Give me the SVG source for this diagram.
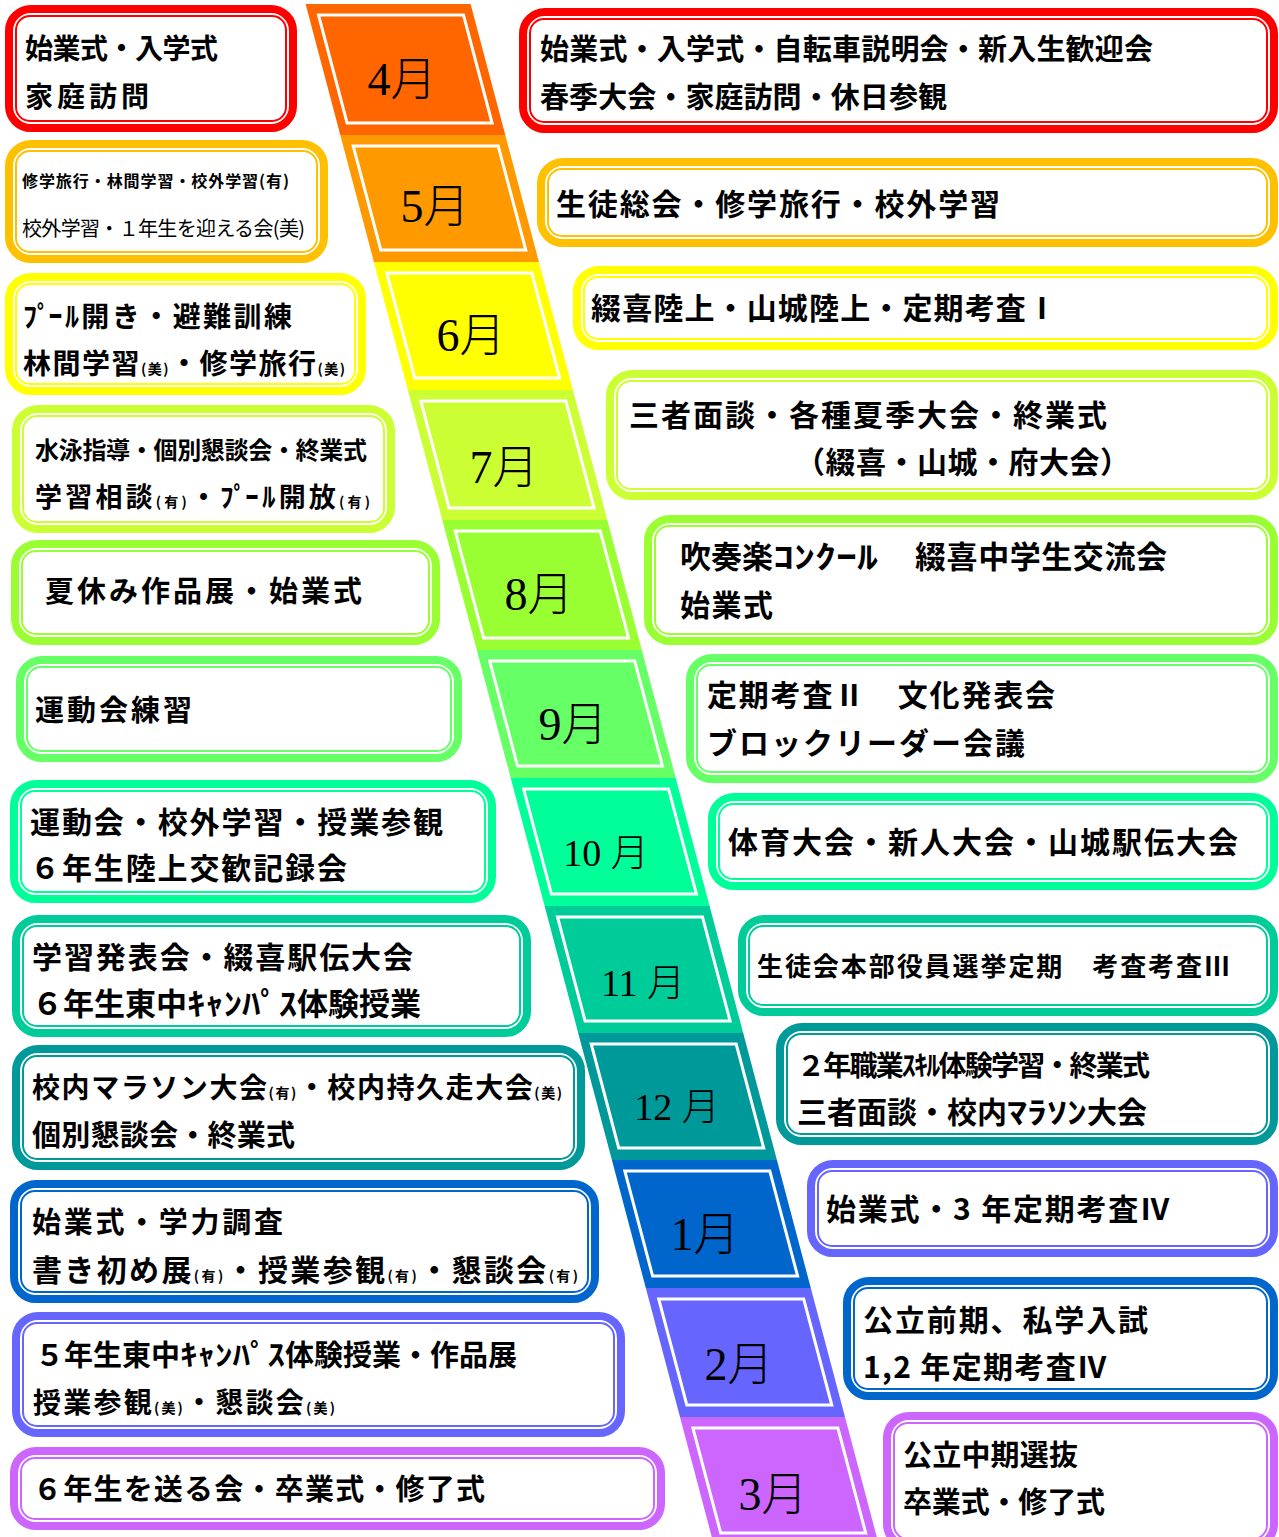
<svg xmlns="http://www.w3.org/2000/svg" width="1279" height="1537" viewBox="0 0 1279 1537">
<style>
.o{fill:#fff;stroke-width:8}
.i{fill:none;stroke-width:2}
.t{font-family:"Noto Sans CJK JP","Noto Sans CJK SC",sans-serif;font-weight:700;fill:#000;stroke:none}
.n{font-weight:400}
.s{font-size:14px}
.m{font-family:"Liberation Serif","Noto Sans CJK JP",serif;font-size:46px;font-weight:300;text-anchor:middle;fill:#000;stroke:none}
.ms{font-size:38px}
.pw{fill:none;stroke:#fff;stroke-width:3}
</style>
<rect width="1279" height="1537" fill="#fff"/>
<g id="months">
<g id="m4" fill="#FF6600"><polygon points="305.6,4 470.6,4 505.3,135 340.3,135"/><polygon class="pw" points="318.5,15 463.5,15 492.1,123 347.1,123"/><text class="m" x="402" y="95">4月</text></g>
<g id="m5" fill="#FF9900"><polygon points="340.3,135 505.3,135 538.9,262 373.9,262"/><polygon class="pw" points="353.2,146 498.2,146 525.8,250 380.8,250"/><text class="m" x="435" y="222">5月</text></g>
<g id="m6" fill="#FFFF00"><polygon points="373.9,262 538.9,262 572.9,390 407.9,390"/><polygon class="pw" points="386.8,273 531.8,273 559.7,378 414.7,378"/><text class="m" x="471" y="351">6月</text></g>
<g id="m7" fill="#CCFF33"><polygon points="407.9,390 572.9,390 607.3,520 442.3,520"/><polygon class="pw" points="420.8,401 565.8,401 594.1,508 449.1,508"/><text class="m" x="504" y="483">7月</text></g>
<g id="m8" fill="#99FF33"><polygon points="442.3,520 607.3,520 641.8,650 476.8,650"/><polygon class="pw" points="455.2,531 600.2,531 628.6,638 483.6,638"/><text class="m" x="539" y="610">8月</text></g>
<g id="m9" fill="#66FF66"><polygon points="476.8,650 641.8,650 675.7,778 510.7,778"/><polygon class="pw" points="489.7,661 634.7,661 662.5,766 517.5,766"/><text class="m" x="573" y="740">9月</text></g>
<g id="m10" fill="#00FF99"><polygon points="510.7,778 675.7,778 709.6,906 544.6,906"/><polygon class="pw" points="523.6,789 668.6,789 696.4,894 551.4,894"/><text class="m ms" x="606" y="866">10 月</text></g>
<g id="m11" fill="#00CC99"><polygon points="544.6,906 709.6,906 743.2,1033 578.2,1033"/><polygon class="pw" points="557.5,917 702.5,917 730.1,1021 585.1,1021"/><text class="m ms" x="643" y="996">11 月</text></g>
<g id="m12" fill="#009999"><polygon points="578.2,1033 743.2,1033 776.9,1160 611.9,1160"/><polygon class="pw" points="591.2,1044 736.2,1044 763.7,1148 618.7,1148"/><text class="m ms" x="677" y="1120">12 月</text></g>
<g id="m1" fill="#0066CC"><polygon points="611.9,1160 776.9,1160 810.8,1288 645.8,1288"/><polygon class="pw" points="624.8,1171 769.8,1171 797.6,1276 652.6,1276"/><text class="m" x="705" y="1250">1月</text></g>
<g id="m2" fill="#6666FF"><polygon points="645.8,1288 810.8,1288 845,1417 680,1417"/><polygon class="pw" points="658.7,1299 803.7,1299 831.8,1405 686.8,1405"/><text class="m" x="739" y="1380">2月</text></g>
<g id="m3" fill="#CC66FF"><polygon points="680,1417 845,1417 878.9,1545 713.9,1545"/><polygon class="pw" points="692.9,1428 837.9,1428 865.7,1533 720.7,1533"/><text class="m" x="773" y="1510">3月</text></g>
</g>
<g id="left">
<g id="L4" stroke="#FF0000"><rect class="o" x="9" y="9" width="284" height="119" rx="22"/><rect class="i" x="16" y="16" width="270" height="105" rx="14"/>
<text class="t" x="25" y="59" font-size="28" textLength="193">始業式・入学式</text>
<text class="t" x="25" y="107" font-size="28" textLength="124">家庭訪問</text></g>
<g id="L5" stroke="#FFC000"><rect class="o" x="9" y="144" width="315" height="115" rx="22"/><rect class="i" x="16" y="151" width="301" height="101" rx="14"/>
<text class="t" x="22" y="187" font-size="16" textLength="267">修学旅行・林間学習・校外学習(有)</text>
<text class="t n" x="22" y="236" font-size="20" textLength="283">校外学習・１年生を迎える会(美)</text></g>
<g id="L6" stroke="#FFFF00"><rect class="o" x="9" y="277" width="353" height="114" rx="22"/><rect class="i" x="16" y="284" width="339" height="100" rx="14"/>
<text class="t" x="23" y="327" font-size="28" textLength="269">ﾌﾟ<tspan dx="-5">ｰﾙ</tspan>開き・避難訓練</text>
<text class="t" x="23" y="374" font-size="28" textLength="322">林間学習<tspan class="s">(美)</tspan>・修学旅行<tspan class="s">(美)</tspan></text></g>
<g id="L7" stroke="#CCFF33"><rect class="o" x="16" y="409" width="375" height="120" rx="22"/><rect class="i" x="23" y="416" width="361" height="106" rx="14"/>
<text class="t" x="35" y="459" font-size="24" textLength="332">水泳指導・個別懇談会・終業式</text>
<text class="t" x="35" y="507" font-size="27" textLength="335">学習相談<tspan class="s">(有)</tspan>・ﾌﾟ<tspan dx="-5">ｰﾙ</tspan>開放<tspan class="s">(有)</tspan></text></g>
<g id="L8" stroke="#99FF33"><rect class="o" x="15" y="544" width="421" height="97" rx="22"/><rect class="i" x="22" y="551" width="407" height="83" rx="14"/>
<text class="t" x="45" y="602" font-size="29" textLength="317">夏休み作品展・始業式</text></g>
<g id="L9" stroke="#66FF66"><rect class="o" x="20" y="660" width="438" height="98" rx="22"/><rect class="i" x="27" y="667" width="424" height="84" rx="14"/>
<text class="t" x="35" y="721" font-size="29" textLength="157">運動会練習</text></g>
<g id="L10" stroke="#00FF99"><rect class="o" x="14" y="784" width="478" height="115" rx="22"/><rect class="i" x="21" y="791" width="464" height="101" rx="14"/>
<text class="t" x="30" y="833" font-size="30" textLength="413">運動会・校外学習・授業参観</text>
<text class="t" x="30" y="879" font-size="30" textLength="317">６年生陸上交歓記録会</text></g>
<g id="L11" stroke="#00CC99"><rect class="o" x="16" y="919" width="511" height="114" rx="22"/><rect class="i" x="23" y="926" width="497" height="100" rx="14"/>
<text class="t" x="32" y="968" font-size="30" textLength="381">学習発表会・綴喜駅伝大会</text>
<text class="t" x="32" y="1015" font-size="31">６年生東中<tspan textLength="110" lengthAdjust="spacingAndGlyphs">ｷｬﾝﾊﾟｽ</tspan>体験授業</text></g>
<g id="L12" stroke="#009999"><rect class="o" x="16" y="1049" width="565" height="117" rx="22"/><rect class="i" x="23" y="1056" width="551" height="103" rx="14"/>
<text class="t" x="32" y="1098" font-size="28" textLength="530">校内マラソン大会<tspan class="s">(有)</tspan>・校内持久走大会<tspan class="s">(美)</tspan></text>
<text class="t" x="32" y="1146" font-size="29" textLength="263">個別懇談会・終業式</text></g>
<g id="L1" stroke="#0066CC"><rect class="o" x="14" y="1184" width="581" height="115" rx="22"/><rect class="i" x="21" y="1191" width="567" height="101" rx="14"/>
<text class="t" x="32" y="1233" font-size="29" textLength="251">始業式・学力調査</text>
<text class="t" x="32" y="1281" font-size="30" textLength="546">書き初め展<tspan class="s">(有)</tspan>・授業参観<tspan class="s">(有)</tspan>・懇談会<tspan class="s">(有)</tspan></text></g>
<g id="L2" stroke="#6666FF"><rect class="o" x="16" y="1316" width="605" height="117" rx="22"/><rect class="i" x="23" y="1323" width="591" height="103" rx="14"/>
<text class="t" x="35" y="1366" font-size="29">５年生東中<tspan textLength="105" lengthAdjust="spacingAndGlyphs">ｷｬﾝﾊﾟｽ</tspan>体験授業・作品展</text>
<text class="t" x="33" y="1413" font-size="28" textLength="302">授業参観<tspan class="s">(美)</tspan>・懇談会<tspan class="s">(美)</tspan></text></g>
<g id="L3" stroke="#CC66FF"><rect class="o" x="14" y="1451" width="647" height="75" rx="22"/><rect class="i" x="21" y="1458" width="633" height="61" rx="14"/>
<text class="t" x="33" y="1500" font-size="29" textLength="452">６年生を送る会・卒業式・修了式</text></g>
</g>
<g id="right">
<g id="R4" stroke="#FF0000"><rect class="o" x="523" y="12" width="751" height="117" rx="22"/><rect class="i" x="530" y="19" width="737" height="103" rx="14"/>
<text class="t" x="540" y="60" font-size="29" textLength="613">始業式・入学式・自転車説明会・新入生歓迎会</text>
<text class="t" x="540" y="108" font-size="29" textLength="407">春季大会・家庭訪問・休日参観</text></g>
<g id="R5" stroke="#FFC000"><rect class="o" x="541" y="162" width="733" height="81" rx="22"/><rect class="i" x="548" y="169" width="719" height="67" rx="14"/>
<text class="t" x="556" y="215" font-size="30" textLength="444">生徒総会・修学旅行・校外学習</text></g>
<g id="R6" stroke="#FFFF00"><rect class="o" x="577" y="270" width="697" height="76" rx="22"/><rect class="i" x="584" y="277" width="683" height="62" rx="14"/>
<text class="t" x="591" y="319" font-size="30" textLength="466">綴喜陸上・山城陸上・定期考査Ⅰ</text></g>
<g id="R7" stroke="#CCFF33"><rect class="o" x="610" y="374" width="664" height="122" rx="22"/><rect class="i" x="617" y="381" width="650" height="108" rx="14"/>
<text class="t" x="629" y="426" font-size="30" textLength="478">三者面談・各種夏季大会・終業式</text>
<text class="t" x="795" y="473" font-size="30" textLength="335">（綴喜・山城・府大会）</text></g>
<g id="R8" stroke="#99FF33"><rect class="o" x="648" y="519" width="626" height="122" rx="22"/><rect class="i" x="655" y="526" width="612" height="108" rx="14"/>
<text class="t" x="680" y="568" font-size="31">吹奏楽<tspan textLength="105" lengthAdjust="spacingAndGlyphs">ｺﾝｸｰﾙ</tspan>　<tspan x="915" textLength="252">綴喜中学生交流会</tspan></text>
<text class="t" x="680" y="616" font-size="30" textLength="93">始業式</text></g>
<g id="R9" stroke="#66FF66"><rect class="o" x="690" y="658" width="584" height="121" rx="22"/><rect class="i" x="697" y="665" width="570" height="107" rx="14"/>
<text class="t" x="707" y="706" font-size="30" textLength="348">定期考査Ⅱ　文化発表会</text>
<text class="t" x="707" y="754" font-size="30" textLength="318">ブロックリーダー会議</text></g>
<g id="R10" stroke="#00FF99"><rect class="o" x="712" y="797" width="562" height="89" rx="22"/><rect class="i" x="719" y="804" width="548" height="75" rx="14"/>
<text class="t" x="728" y="853" font-size="30" textLength="510">体育大会・新人大会・山城駅伝大会</text></g>
<g id="R11" stroke="#00CC99"><rect class="o" x="742" y="919" width="532" height="93" rx="22"/><rect class="i" x="749" y="926" width="518" height="79" rx="14"/>
<text class="t" x="757" y="976" font-size="26" textLength="473">生徒会本部役員選挙定期　考査考査Ⅲ</text></g>
<g id="R12" stroke="#009999"><rect class="o" x="780" y="1027" width="494" height="114" rx="22"/><rect class="i" x="787" y="1034" width="480" height="100" rx="14"/>
<text class="t" x="797" y="1076" font-size="28" textLength="353">２年職業ｽｷﾙ体験学習・終業式</text>
<text class="t" x="797" y="1123" font-size="30">三者面談・校内<tspan textLength="80" lengthAdjust="spacingAndGlyphs">ﾏﾗｿﾝ</tspan>大会</text></g>
<g id="R1" stroke="#6666FF"><rect class="o" x="811" y="1164" width="463" height="89" rx="22"/><rect class="i" x="818" y="1171" width="449" height="75" rx="14"/>
<text class="t" x="826" y="1220" font-size="30" textLength="344">始業式・3 年定期考査Ⅳ</text></g>
<g id="R2" stroke="#0066CC"><rect class="o" x="847" y="1281" width="427" height="115" rx="22"/><rect class="i" x="854" y="1288" width="413" height="101" rx="14"/>
<text class="t" x="863" y="1331" font-size="30" textLength="285">公立前期、私学入試</text>
<text class="t" x="863" y="1378" font-size="30" textLength="244">1,2 年定期考査Ⅳ</text></g>
<g id="R3" stroke="#CC66FF"><rect class="o" x="887" y="1416" width="387" height="130" rx="22"/><rect class="i" x="894" y="1423" width="373" height="116" rx="14"/>
<text class="t" x="903" y="1466" font-size="29" textLength="175">公立中期選抜</text>
<text class="t" x="903" y="1513" font-size="29" textLength="202">卒業式・修了式</text></g>
</g>
</svg>
